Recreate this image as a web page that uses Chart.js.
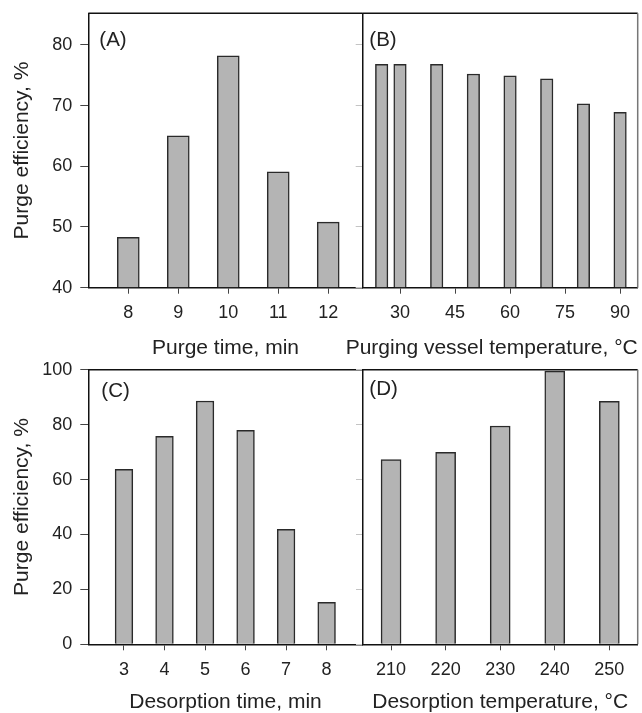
<!DOCTYPE html>
<html>
<head>
<meta charset="utf-8">
<script src="https://cdn.jsdelivr.net/npm/chart.js@4/dist/chart.umd.min.js"></script>
<style>
    body { margin: 0; background: #fff; }
    #wrap { position: relative; width: 642px; height: 713px; overflow: hidden; }
    canvas { position: absolute; }
</style>
</head>
<body>
<div id="wrap">
    <canvas id="chartA" width="363" height="372" style="left:0;top:-10px"></canvas>
    <canvas id="chartB" width="312" height="372" style="left:330px;top:-10px"></canvas>
    <canvas id="chartC" width="363" height="373" style="left:0;top:340px"></canvas>
    <canvas id="chartD" width="286" height="373" style="left:356px;top:340px"></canvas>
</div>
<script>
// (A) purge time
const purgeTime = [8, 9, 10, 11, 12];
const purgeTimeEff = [48.3, 65.0, 78.2, 59.1, 50.8];
const purgeTimeTicks = [8, 9, 10, 11, 12];

// (B) purging vessel temperature
const vesselTemp = [25, 30, 40, 50, 60, 70, 80, 90];
const vesselTempEff = [76.8, 76.8, 76.8, 75.2, 74.9, 74.4, 70.3, 68.9];
const vesselTempTicks = [30, 45, 60, 75, 90];

// (C) desorption time
const desorpTime = [3, 4, 5, 6, 7, 8];
const desorpTimeEff = [63.7, 75.7, 88.6, 77.9, 41.9, 15.3];
const desorpTimeTicks = [3, 4, 5, 6, 7, 8];

// (D) desorption temperature
const desorpTemp = [210, 220, 230, 240, 250];
const desorpTempEff = [67.3, 69.9, 79.5, 99.5, 88.5];
const desorpTempTicks = [210, 220, 230, 240, 250];

const topYTicks = [40, 50, 60, 70, 80];
const bottomYTicks = [0, 20, 40, 60, 80, 100];

const FONT = "'Liberation Sans', Arial, Helvetica, sans-serif";
const TEXT = '#222';

// frame lines, panel letter, and (for B) a title that may run past the plot edge
const framePlugin = {
    id: 'frame',
    afterDraw(chart, args, opts) {
        const { ctx, chartArea: a } = chart;
        ctx.save();
        ctx.lineWidth = 1.5;
        ctx.strokeStyle = '#111';
        ctx.beginPath();
        ctx.moveTo(a.left, a.top);
        ctx.lineTo(a.right, a.top);
        ctx.stroke();
        if (opts.rightBorder) {
            ctx.strokeStyle = '#777';
            ctx.beginPath();
            ctx.moveTo(a.right, a.top);
            ctx.lineTo(a.right, a.bottom);
            ctx.stroke();
        }
        ctx.fillStyle = TEXT;
        ctx.font = `20.5px ${FONT}`;
        ctx.textBaseline = 'middle';
        ctx.textAlign = 'left';
        ctx.fillText(opts.label, a.left + opts.dx, a.top + opts.dy);
        if (opts.freeTitle) {
            ctx.font = `21px ${FONT}`;
            ctx.textAlign = 'center';
            ctx.fillText(opts.freeTitle, (a.left + a.right) / 2 + opts.titleShift, chart.height - 14);
        }
        ctx.restore();
    }
};

function makePanel(id, p) {
    const ctx = document.getElementById(id).getContext('2d');
    return new Chart(ctx, {
        type: 'bar',
        data: {
            datasets: [{
                data: p.xs.map((x, i) => ({ x: x, y: p.ys[i] })),
                backgroundColor: '#b4b4b4',
                borderColor: '#2a2a2a',
                borderWidth: 1.5,
                borderSkipped: 'start',
                barThickness: p.barWidth,
                base: p.yMin
            }]
        },
        options: {
            responsive: false,
            animation: false,
            layout: { padding: { top: p.padTop, right: p.padRight, left: 0, bottom: 0 } },
            plugins: {
                legend: { display: false },
                tooltip: { enabled: false },
                frame: {
                    label: p.label, dx: p.labelDx, dy: p.labelDy, rightBorder: p.rightBorder,
                    freeTitle: p.freeTitle ? p.xTitle : null, titleShift: p.titleShift || 0
                }
            },
            scales: {
                x: {
                    type: 'linear',
                    offset: false,
                    min: p.xMin,
                    max: p.xMax,
                    afterBuildTicks: s => { s.ticks = p.xTicks.map(v => ({ value: v })); },
                    afterFit: s => { s.height = p.xHeight; },
                    grid: { offset: false, drawOnChartArea: false, drawTicks: true, tickLength: 6, tickColor: '#444', tickWidth: 1 },
                    border: { display: true, color: '#111', width: 1.5 },
                    ticks: { color: TEXT, font: { family: FONT, size: 18 }, padding: 9, autoSkip: false, maxRotation: 0 },
                    title: {
                        display: !p.freeTitle, text: p.xTitle, color: TEXT,
                        font: { family: FONT, size: 21, lineHeight: 1 },
                        padding: { top: 0, bottom: p.titlePadBottom }
                    }
                },
                y: {
                    min: p.yMin,
                    max: p.yMax,
                    afterBuildTicks: s => { s.ticks = p.yTicks.map(v => ({ value: v })); },
                    afterFit: s => { s.width = p.yWidth; },
                    grid: { drawOnChartArea: false, drawTicks: true, tickLength: p.yTickLen, tickColor: p.yTickColor, tickWidth: 1 },
                    border: { display: true, color: '#111', width: 1.5 },
                    ticks: { display: p.showY, color: TEXT, font: { family: FONT, size: 18 }, padding: 8 },
                    title: {
                        display: p.showY, text: 'Purge efficiency, %', color: TEXT,
                        font: { family: FONT, size: 21, lineHeight: 1 },
                        padding: { top: 11.5, bottom: 0 }
                    }
                }
            }
        },
        plugins: [framePlugin]
    });
}

makePanel('chartA', {
    xs: purgeTime, ys: purgeTimeEff, xTicks: purgeTimeTicks, xMin: 7.2, xMax: 12.69,
    yTicks: topYTicks, yMin: 40, yMax: 85.2, barWidth: 22,
    padTop: 23.3, padRight: 0.3, xHeight: 74.3, yWidth: 88.3, titlePadBottom: 3.5,
    showY: true, yTickLen: 8, yTickColor: '#444',
    xTitle: 'Purge time, min', label: '(A)', labelDx: 11, labelDy: 27, rightBorder: false
});

makePanel('chartB', {
    xs: vesselTemp, ys: vesselTempEff, xTicks: vesselTempTicks, xMin: 19.83, xMax: 94.8,
    yTicks: topYTicks, yMin: 40, yMax: 85.2, barWidth: 12.5,
    padTop: 23.3, padRight: 4.3, xHeight: 74.3, yWidth: 32.7, titlePadBottom: 3.5,
    showY: false, yTickLen: 7, yTickColor: '#c4c4c4',
    xTitle: 'Purging vessel temperature, °C', freeTitle: true, titleShift: -8.5,
    label: '(B)', labelDx: 6.6, labelDy: 27, rightBorder: true
});

makePanel('chartC', {
    xs: desorpTime, ys: desorpTimeEff, xTicks: desorpTimeTicks, xMin: 2.12, xMax: 8.89,
    yTicks: bottomYTicks, yMin: 0, yMax: 100, barWidth: 17.7,
    padTop: 29.7, padRight: 0.3, xHeight: 68.7, yWidth: 88.3, titlePadBottom: 0,
    showY: true, yTickLen: 8, yTickColor: '#444',
    xTitle: 'Desorption time, min', label: '(C)', labelDx: 13, labelDy: 22, rightBorder: false
});

makePanel('chartD', {
    xs: desorpTemp, ys: desorpTempEff, xTicks: desorpTempTicks, xMin: 204.8, xMax: 255.2,
    yTicks: bottomYTicks, yMin: 0, yMax: 100, barWidth: 20,
    padTop: 29.7, padRight: 4.3, xHeight: 68.7, yWidth: 6.7, titlePadBottom: 0,
    showY: false, yTickLen: 7, yTickColor: '#c4c4c4',
    xTitle: 'Desorption temperature, °C', label: '(D)', labelDx: 6.6, labelDy: 20, rightBorder: true
});
</script>
</body>
</html>
